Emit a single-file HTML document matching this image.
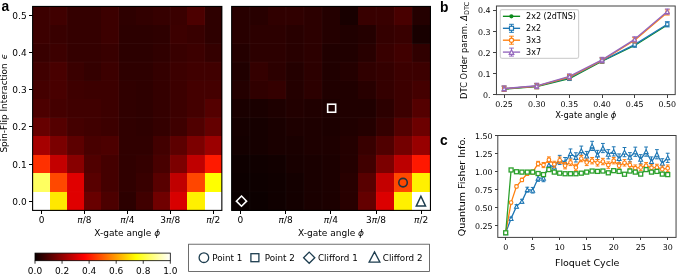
<!DOCTYPE html>
<html><head><meta charset="utf-8"><title>Figure</title>
<style>html,body{margin:0;padding:0;background:#fff}svg{display:block}</style></head>
<body>
<svg width="685" height="278" viewBox="0 0 685 278">
<rect width="685" height="278" fill="#fff"/>
<g shape-rendering="crispEdges">
<rect x="32.60" y="6.45" width="17.50" height="18.84" fill="#3c0000"/>
<rect x="49.80" y="6.45" width="17.50" height="18.84" fill="#400000"/>
<rect x="67.01" y="6.45" width="17.50" height="18.84" fill="#340000"/>
<rect x="84.21" y="6.45" width="17.50" height="18.84" fill="#340000"/>
<rect x="101.42" y="6.45" width="17.50" height="18.84" fill="#3c0000"/>
<rect x="118.62" y="6.45" width="17.50" height="18.84" fill="#2e0000"/>
<rect x="135.83" y="6.45" width="17.50" height="18.84" fill="#320000"/>
<rect x="153.03" y="6.45" width="17.50" height="18.84" fill="#360000"/>
<rect x="170.24" y="6.45" width="17.50" height="18.84" fill="#3a0000"/>
<rect x="187.44" y="6.45" width="17.50" height="18.84" fill="#4c0000"/>
<rect x="204.65" y="6.45" width="17.50" height="18.84" fill="#2e0000"/>
<rect x="32.60" y="24.99" width="17.50" height="18.84" fill="#3c0000"/>
<rect x="49.80" y="24.99" width="17.50" height="18.84" fill="#380000"/>
<rect x="67.01" y="24.99" width="17.50" height="18.84" fill="#340000"/>
<rect x="84.21" y="24.99" width="17.50" height="18.84" fill="#340000"/>
<rect x="101.42" y="24.99" width="17.50" height="18.84" fill="#3c0000"/>
<rect x="118.62" y="24.99" width="17.50" height="18.84" fill="#2c0000"/>
<rect x="135.83" y="24.99" width="17.50" height="18.84" fill="#2c0000"/>
<rect x="153.03" y="24.99" width="17.50" height="18.84" fill="#2e0000"/>
<rect x="170.24" y="24.99" width="17.50" height="18.84" fill="#3c0000"/>
<rect x="187.44" y="24.99" width="17.50" height="18.84" fill="#380000"/>
<rect x="204.65" y="24.99" width="17.50" height="18.84" fill="#2e0000"/>
<rect x="32.60" y="43.53" width="17.50" height="18.84" fill="#380000"/>
<rect x="49.80" y="43.53" width="17.50" height="18.84" fill="#3c0000"/>
<rect x="67.01" y="43.53" width="17.50" height="18.84" fill="#340000"/>
<rect x="84.21" y="43.53" width="17.50" height="18.84" fill="#340000"/>
<rect x="101.42" y="43.53" width="17.50" height="18.84" fill="#380000"/>
<rect x="118.62" y="43.53" width="17.50" height="18.84" fill="#2c0000"/>
<rect x="135.83" y="43.53" width="17.50" height="18.84" fill="#2c0000"/>
<rect x="153.03" y="43.53" width="17.50" height="18.84" fill="#300000"/>
<rect x="170.24" y="43.53" width="17.50" height="18.84" fill="#380000"/>
<rect x="187.44" y="43.53" width="17.50" height="18.84" fill="#3c0000"/>
<rect x="204.65" y="43.53" width="17.50" height="18.84" fill="#340000"/>
<rect x="32.60" y="62.07" width="17.50" height="18.84" fill="#400000"/>
<rect x="49.80" y="62.07" width="17.50" height="18.84" fill="#480000"/>
<rect x="67.01" y="62.07" width="17.50" height="18.84" fill="#3a0000"/>
<rect x="84.21" y="62.07" width="17.50" height="18.84" fill="#340000"/>
<rect x="101.42" y="62.07" width="17.50" height="18.84" fill="#3c0000"/>
<rect x="118.62" y="62.07" width="17.50" height="18.84" fill="#2e0000"/>
<rect x="135.83" y="62.07" width="17.50" height="18.84" fill="#2e0000"/>
<rect x="153.03" y="62.07" width="17.50" height="18.84" fill="#340000"/>
<rect x="170.24" y="62.07" width="17.50" height="18.84" fill="#3c0000"/>
<rect x="187.44" y="62.07" width="17.50" height="18.84" fill="#400000"/>
<rect x="204.65" y="62.07" width="17.50" height="18.84" fill="#400000"/>
<rect x="32.60" y="80.61" width="17.50" height="18.84" fill="#440000"/>
<rect x="49.80" y="80.61" width="17.50" height="18.84" fill="#480000"/>
<rect x="67.01" y="80.61" width="17.50" height="18.84" fill="#3e0000"/>
<rect x="84.21" y="80.61" width="17.50" height="18.84" fill="#3c0000"/>
<rect x="101.42" y="80.61" width="17.50" height="18.84" fill="#3c0000"/>
<rect x="118.62" y="80.61" width="17.50" height="18.84" fill="#300000"/>
<rect x="135.83" y="80.61" width="17.50" height="18.84" fill="#2e0000"/>
<rect x="153.03" y="80.61" width="17.50" height="18.84" fill="#340000"/>
<rect x="170.24" y="80.61" width="17.50" height="18.84" fill="#3c0000"/>
<rect x="187.44" y="80.61" width="17.50" height="18.84" fill="#440000"/>
<rect x="204.65" y="80.61" width="17.50" height="18.84" fill="#440000"/>
<rect x="32.60" y="99.15" width="17.50" height="18.84" fill="#4c0000"/>
<rect x="49.80" y="99.15" width="17.50" height="18.84" fill="#440000"/>
<rect x="67.01" y="99.15" width="17.50" height="18.84" fill="#400000"/>
<rect x="84.21" y="99.15" width="17.50" height="18.84" fill="#400000"/>
<rect x="101.42" y="99.15" width="17.50" height="18.84" fill="#3c0000"/>
<rect x="118.62" y="99.15" width="17.50" height="18.84" fill="#300000"/>
<rect x="135.83" y="99.15" width="17.50" height="18.84" fill="#2e0000"/>
<rect x="153.03" y="99.15" width="17.50" height="18.84" fill="#340000"/>
<rect x="170.24" y="99.15" width="17.50" height="18.84" fill="#3c0000"/>
<rect x="187.44" y="99.15" width="17.50" height="18.84" fill="#440000"/>
<rect x="204.65" y="99.15" width="17.50" height="18.84" fill="#540000"/>
<rect x="32.60" y="117.70" width="17.50" height="18.84" fill="#660000"/>
<rect x="49.80" y="117.70" width="17.50" height="18.84" fill="#540000"/>
<rect x="67.01" y="117.70" width="17.50" height="18.84" fill="#440000"/>
<rect x="84.21" y="117.70" width="17.50" height="18.84" fill="#400000"/>
<rect x="101.42" y="117.70" width="17.50" height="18.84" fill="#3c0000"/>
<rect x="118.62" y="117.70" width="17.50" height="18.84" fill="#300000"/>
<rect x="135.83" y="117.70" width="17.50" height="18.84" fill="#2e0000"/>
<rect x="153.03" y="117.70" width="17.50" height="18.84" fill="#340000"/>
<rect x="170.24" y="117.70" width="17.50" height="18.84" fill="#3e0000"/>
<rect x="187.44" y="117.70" width="17.50" height="18.84" fill="#500000"/>
<rect x="204.65" y="117.70" width="17.50" height="18.84" fill="#640000"/>
<rect x="32.60" y="136.24" width="17.50" height="18.84" fill="#a60000"/>
<rect x="49.80" y="136.24" width="17.50" height="18.84" fill="#7a0000"/>
<rect x="67.01" y="136.24" width="17.50" height="18.84" fill="#5c0000"/>
<rect x="84.21" y="136.24" width="17.50" height="18.84" fill="#480000"/>
<rect x="101.42" y="136.24" width="17.50" height="18.84" fill="#4c0000"/>
<rect x="118.62" y="136.24" width="17.50" height="18.84" fill="#300000"/>
<rect x="135.83" y="136.24" width="17.50" height="18.84" fill="#300000"/>
<rect x="153.03" y="136.24" width="17.50" height="18.84" fill="#420000"/>
<rect x="170.24" y="136.24" width="17.50" height="18.84" fill="#5c0000"/>
<rect x="187.44" y="136.24" width="17.50" height="18.84" fill="#7c0000"/>
<rect x="204.65" y="136.24" width="17.50" height="18.84" fill="#9c0000"/>
<rect x="32.60" y="154.78" width="17.50" height="18.84" fill="#ff3000"/>
<rect x="49.80" y="154.78" width="17.50" height="18.84" fill="#c40000"/>
<rect x="67.01" y="154.78" width="17.50" height="18.84" fill="#880000"/>
<rect x="84.21" y="154.78" width="17.50" height="18.84" fill="#500000"/>
<rect x="101.42" y="154.78" width="17.50" height="18.84" fill="#440000"/>
<rect x="118.62" y="154.78" width="17.50" height="18.84" fill="#300000"/>
<rect x="135.83" y="154.78" width="17.50" height="18.84" fill="#340000"/>
<rect x="153.03" y="154.78" width="17.50" height="18.84" fill="#480000"/>
<rect x="170.24" y="154.78" width="17.50" height="18.84" fill="#7c0000"/>
<rect x="187.44" y="154.78" width="17.50" height="18.84" fill="#c00000"/>
<rect x="204.65" y="154.78" width="17.50" height="18.84" fill="#ff1a00"/>
<rect x="32.60" y="173.32" width="17.50" height="18.84" fill="#ffff60"/>
<rect x="49.80" y="173.32" width="17.50" height="18.84" fill="#ff4800"/>
<rect x="67.01" y="173.32" width="17.50" height="18.84" fill="#e00000"/>
<rect x="84.21" y="173.32" width="17.50" height="18.84" fill="#580000"/>
<rect x="101.42" y="173.32" width="17.50" height="18.84" fill="#440000"/>
<rect x="118.62" y="173.32" width="17.50" height="18.84" fill="#300000"/>
<rect x="135.83" y="173.32" width="17.50" height="18.84" fill="#380000"/>
<rect x="153.03" y="173.32" width="17.50" height="18.84" fill="#580000"/>
<rect x="170.24" y="173.32" width="17.50" height="18.84" fill="#c00000"/>
<rect x="187.44" y="173.32" width="17.50" height="18.84" fill="#ff4600"/>
<rect x="204.65" y="173.32" width="17.50" height="18.84" fill="#ffff00"/>
<rect x="32.60" y="191.86" width="17.50" height="18.84" fill="#ffffff"/>
<rect x="49.80" y="191.86" width="17.50" height="18.84" fill="#ffe800"/>
<rect x="67.01" y="191.86" width="17.50" height="18.84" fill="#e00000"/>
<rect x="84.21" y="191.86" width="17.50" height="18.84" fill="#680000"/>
<rect x="101.42" y="191.86" width="17.50" height="18.84" fill="#4c0000"/>
<rect x="118.62" y="191.86" width="17.50" height="18.84" fill="#2c0000"/>
<rect x="135.83" y="191.86" width="17.50" height="18.84" fill="#400000"/>
<rect x="153.03" y="191.86" width="17.50" height="18.84" fill="#700000"/>
<rect x="170.24" y="191.86" width="17.50" height="18.84" fill="#d80000"/>
<rect x="187.44" y="191.86" width="17.50" height="18.84" fill="#fff000"/>
<rect x="204.65" y="191.86" width="17.50" height="18.84" fill="#ffffff"/>
</g>
<line x1="49.80" y1="6.45" x2="49.80" y2="210.40" stroke="#fff" stroke-opacity="0.045" stroke-width="0.9"/>
<line x1="67.01" y1="6.45" x2="67.01" y2="210.40" stroke="#fff" stroke-opacity="0.045" stroke-width="0.9"/>
<line x1="118.62" y1="6.45" x2="118.62" y2="210.40" stroke="#fff" stroke-opacity="0.045" stroke-width="0.9"/>
<line x1="170.24" y1="6.45" x2="170.24" y2="210.40" stroke="#fff" stroke-opacity="0.045" stroke-width="0.9"/>
<line x1="204.65" y1="6.45" x2="204.65" y2="210.40" stroke="#fff" stroke-opacity="0.045" stroke-width="0.9"/>
<line x1="32.60" y1="43.53" x2="221.85" y2="43.53" stroke="#fff" stroke-opacity="0.045" stroke-width="0.9"/>
<line x1="32.60" y1="62.07" x2="221.85" y2="62.07" stroke="#fff" stroke-opacity="0.045" stroke-width="0.9"/>
<line x1="32.60" y1="80.61" x2="221.85" y2="80.61" stroke="#fff" stroke-opacity="0.02" stroke-width="0.9"/>
<line x1="32.60" y1="117.70" x2="221.85" y2="117.70" stroke="#fff" stroke-opacity="0.045" stroke-width="0.9"/>
<line x1="32.60" y1="154.78" x2="221.85" y2="154.78" stroke="#fff" stroke-opacity="0.02" stroke-width="0.9"/>
<line x1="32.60" y1="191.86" x2="221.85" y2="191.86" stroke="#fff" stroke-opacity="0.02" stroke-width="0.9"/>
<rect x="32.60" y="6.45" width="189.25" height="203.95" fill="none" stroke="#000" stroke-width="1.1"/>
<line x1="41.50" y1="210.40" x2="41.50" y2="213.70" stroke="#000" stroke-width="1" shape-rendering="crispEdges"/>
<text x="41.50" y="223.40" font-size="9.0" text-anchor="middle" font-family='"DejaVu Sans","Liberation Sans",sans-serif' >0</text>
<line x1="84.43" y1="210.40" x2="84.43" y2="213.70" stroke="#000" stroke-width="1" shape-rendering="crispEdges"/>
<text x="84.43" y="223.40" font-size="9.0" text-anchor="middle" font-family='"DejaVu Sans","Liberation Sans",sans-serif' ><tspan font-style="italic">π</tspan>/8</text>
<line x1="127.36" y1="210.40" x2="127.36" y2="213.70" stroke="#000" stroke-width="1" shape-rendering="crispEdges"/>
<text x="127.36" y="223.40" font-size="9.0" text-anchor="middle" font-family='"DejaVu Sans","Liberation Sans",sans-serif' ><tspan font-style="italic">π</tspan>/4</text>
<line x1="170.29" y1="210.40" x2="170.29" y2="213.70" stroke="#000" stroke-width="1" shape-rendering="crispEdges"/>
<text x="170.29" y="223.40" font-size="9.0" text-anchor="middle" font-family='"DejaVu Sans","Liberation Sans",sans-serif' >3<tspan font-style="italic">π</tspan>/8</text>
<line x1="213.22" y1="210.40" x2="213.22" y2="213.70" stroke="#000" stroke-width="1" shape-rendering="crispEdges"/>
<text x="213.22" y="223.40" font-size="9.0" text-anchor="middle" font-family='"DejaVu Sans","Liberation Sans",sans-serif' ><tspan font-style="italic">π</tspan>/2</text>
<text x="127.22" y="236.00" font-size="9.0" text-anchor="middle" font-family='"DejaVu Sans","Liberation Sans",sans-serif' >X-gate angle <tspan font-style="italic">ϕ</tspan></text>
<line x1="29.30" y1="201.13" x2="32.60" y2="201.13" stroke="#000" stroke-width="1" shape-rendering="crispEdges"/>
<text x="26.70" y="204.63" font-size="9.0" text-anchor="end" font-family='"DejaVu Sans","Liberation Sans",sans-serif' >0.0</text>
<line x1="29.30" y1="164.05" x2="32.60" y2="164.05" stroke="#000" stroke-width="1" shape-rendering="crispEdges"/>
<text x="26.70" y="167.55" font-size="9.0" text-anchor="end" font-family='"DejaVu Sans","Liberation Sans",sans-serif' >0.1</text>
<line x1="29.30" y1="126.97" x2="32.60" y2="126.97" stroke="#000" stroke-width="1" shape-rendering="crispEdges"/>
<text x="26.70" y="130.47" font-size="9.0" text-anchor="end" font-family='"DejaVu Sans","Liberation Sans",sans-serif' >0.2</text>
<line x1="29.30" y1="89.88" x2="32.60" y2="89.88" stroke="#000" stroke-width="1" shape-rendering="crispEdges"/>
<text x="26.70" y="93.38" font-size="9.0" text-anchor="end" font-family='"DejaVu Sans","Liberation Sans",sans-serif' >0.3</text>
<line x1="29.30" y1="52.80" x2="32.60" y2="52.80" stroke="#000" stroke-width="1" shape-rendering="crispEdges"/>
<text x="26.70" y="56.30" font-size="9.0" text-anchor="end" font-family='"DejaVu Sans","Liberation Sans",sans-serif' >0.4</text>
<line x1="29.30" y1="15.72" x2="32.60" y2="15.72" stroke="#000" stroke-width="1" shape-rendering="crispEdges"/>
<text x="26.70" y="19.22" font-size="9.0" text-anchor="end" font-family='"DejaVu Sans","Liberation Sans",sans-serif' >0.5</text>
<text x="1.40" y="11.30" font-size="13.8" text-anchor="start" font-family='"Liberation Sans","DejaVu Sans",sans-serif' font-weight="bold">a</text>
<text transform="translate(7.4,103.2) rotate(-90)" font-size="8.9" text-anchor="middle" font-family='"DejaVu Sans","Liberation Sans",sans-serif'>Spin-Flip Interaction <tspan font-style="italic" dx="1.3">ϵ</tspan></text>
<g shape-rendering="crispEdges">
<rect x="231.65" y="6.45" width="18.37" height="18.84" fill="#280000"/>
<rect x="249.72" y="6.45" width="18.37" height="18.84" fill="#280000"/>
<rect x="267.80" y="6.45" width="18.37" height="18.84" fill="#300000"/>
<rect x="285.87" y="6.45" width="18.37" height="18.84" fill="#300000"/>
<rect x="303.94" y="6.45" width="18.37" height="18.84" fill="#2c0000"/>
<rect x="322.01" y="6.45" width="18.37" height="18.84" fill="#240000"/>
<rect x="340.09" y="6.45" width="18.37" height="18.84" fill="#180000"/>
<rect x="358.16" y="6.45" width="18.37" height="18.84" fill="#380000"/>
<rect x="376.23" y="6.45" width="18.37" height="18.84" fill="#380000"/>
<rect x="394.30" y="6.45" width="18.37" height="18.84" fill="#480000"/>
<rect x="412.38" y="6.45" width="18.37" height="18.84" fill="#240000"/>
<rect x="231.65" y="24.99" width="18.37" height="18.84" fill="#280000"/>
<rect x="249.72" y="24.99" width="18.37" height="18.84" fill="#2c0000"/>
<rect x="267.80" y="24.99" width="18.37" height="18.84" fill="#2c0000"/>
<rect x="285.87" y="24.99" width="18.37" height="18.84" fill="#280000"/>
<rect x="303.94" y="24.99" width="18.37" height="18.84" fill="#2c0000"/>
<rect x="322.01" y="24.99" width="18.37" height="18.84" fill="#240000"/>
<rect x="340.09" y="24.99" width="18.37" height="18.84" fill="#200000"/>
<rect x="358.16" y="24.99" width="18.37" height="18.84" fill="#240000"/>
<rect x="376.23" y="24.99" width="18.37" height="18.84" fill="#340000"/>
<rect x="394.30" y="24.99" width="18.37" height="18.84" fill="#380000"/>
<rect x="412.38" y="24.99" width="18.37" height="18.84" fill="#180000"/>
<rect x="231.65" y="43.53" width="18.37" height="18.84" fill="#240000"/>
<rect x="249.72" y="43.53" width="18.37" height="18.84" fill="#2c0000"/>
<rect x="267.80" y="43.53" width="18.37" height="18.84" fill="#2c0000"/>
<rect x="285.87" y="43.53" width="18.37" height="18.84" fill="#280000"/>
<rect x="303.94" y="43.53" width="18.37" height="18.84" fill="#2c0000"/>
<rect x="322.01" y="43.53" width="18.37" height="18.84" fill="#200000"/>
<rect x="340.09" y="43.53" width="18.37" height="18.84" fill="#200000"/>
<rect x="358.16" y="43.53" width="18.37" height="18.84" fill="#280000"/>
<rect x="376.23" y="43.53" width="18.37" height="18.84" fill="#380000"/>
<rect x="394.30" y="43.53" width="18.37" height="18.84" fill="#400000"/>
<rect x="412.38" y="43.53" width="18.37" height="18.84" fill="#300000"/>
<rect x="231.65" y="62.07" width="18.37" height="18.84" fill="#200000"/>
<rect x="249.72" y="62.07" width="18.37" height="18.84" fill="#340000"/>
<rect x="267.80" y="62.07" width="18.37" height="18.84" fill="#2c0000"/>
<rect x="285.87" y="62.07" width="18.37" height="18.84" fill="#240000"/>
<rect x="303.94" y="62.07" width="18.37" height="18.84" fill="#2c0000"/>
<rect x="322.01" y="62.07" width="18.37" height="18.84" fill="#200000"/>
<rect x="340.09" y="62.07" width="18.37" height="18.84" fill="#240000"/>
<rect x="358.16" y="62.07" width="18.37" height="18.84" fill="#300000"/>
<rect x="376.23" y="62.07" width="18.37" height="18.84" fill="#340000"/>
<rect x="394.30" y="62.07" width="18.37" height="18.84" fill="#3c0000"/>
<rect x="412.38" y="62.07" width="18.37" height="18.84" fill="#3c0000"/>
<rect x="231.65" y="80.61" width="18.37" height="18.84" fill="#240000"/>
<rect x="249.72" y="80.61" width="18.37" height="18.84" fill="#300000"/>
<rect x="267.80" y="80.61" width="18.37" height="18.84" fill="#340000"/>
<rect x="285.87" y="80.61" width="18.37" height="18.84" fill="#240000"/>
<rect x="303.94" y="80.61" width="18.37" height="18.84" fill="#2c0000"/>
<rect x="322.01" y="80.61" width="18.37" height="18.84" fill="#200000"/>
<rect x="340.09" y="80.61" width="18.37" height="18.84" fill="#200000"/>
<rect x="358.16" y="80.61" width="18.37" height="18.84" fill="#280000"/>
<rect x="376.23" y="80.61" width="18.37" height="18.84" fill="#340000"/>
<rect x="394.30" y="80.61" width="18.37" height="18.84" fill="#3c0000"/>
<rect x="412.38" y="80.61" width="18.37" height="18.84" fill="#440000"/>
<rect x="231.65" y="99.15" width="18.37" height="18.84" fill="#1a0000"/>
<rect x="249.72" y="99.15" width="18.37" height="18.84" fill="#1a0000"/>
<rect x="267.80" y="99.15" width="18.37" height="18.84" fill="#1e0000"/>
<rect x="285.87" y="99.15" width="18.37" height="18.84" fill="#220000"/>
<rect x="303.94" y="99.15" width="18.37" height="18.84" fill="#200000"/>
<rect x="322.01" y="99.15" width="18.37" height="18.84" fill="#1c0000"/>
<rect x="340.09" y="99.15" width="18.37" height="18.84" fill="#200000"/>
<rect x="358.16" y="99.15" width="18.37" height="18.84" fill="#200000"/>
<rect x="376.23" y="99.15" width="18.37" height="18.84" fill="#2c0000"/>
<rect x="394.30" y="99.15" width="18.37" height="18.84" fill="#3c0000"/>
<rect x="412.38" y="99.15" width="18.37" height="18.84" fill="#540000"/>
<rect x="231.65" y="117.70" width="18.37" height="18.84" fill="#160000"/>
<rect x="249.72" y="117.70" width="18.37" height="18.84" fill="#160000"/>
<rect x="267.80" y="117.70" width="18.37" height="18.84" fill="#1a0000"/>
<rect x="285.87" y="117.70" width="18.37" height="18.84" fill="#1e0000"/>
<rect x="303.94" y="117.70" width="18.37" height="18.84" fill="#1e0000"/>
<rect x="322.01" y="117.70" width="18.37" height="18.84" fill="#1c0000"/>
<rect x="340.09" y="117.70" width="18.37" height="18.84" fill="#200000"/>
<rect x="358.16" y="117.70" width="18.37" height="18.84" fill="#240000"/>
<rect x="376.23" y="117.70" width="18.37" height="18.84" fill="#340000"/>
<rect x="394.30" y="117.70" width="18.37" height="18.84" fill="#520000"/>
<rect x="412.38" y="117.70" width="18.37" height="18.84" fill="#6c0000"/>
<rect x="231.65" y="136.24" width="18.37" height="18.84" fill="#140000"/>
<rect x="249.72" y="136.24" width="18.37" height="18.84" fill="#160000"/>
<rect x="267.80" y="136.24" width="18.37" height="18.84" fill="#1a0000"/>
<rect x="285.87" y="136.24" width="18.37" height="18.84" fill="#1a0000"/>
<rect x="303.94" y="136.24" width="18.37" height="18.84" fill="#1e0000"/>
<rect x="322.01" y="136.24" width="18.37" height="18.84" fill="#1e0000"/>
<rect x="340.09" y="136.24" width="18.37" height="18.84" fill="#240000"/>
<rect x="358.16" y="136.24" width="18.37" height="18.84" fill="#380000"/>
<rect x="376.23" y="136.24" width="18.37" height="18.84" fill="#500000"/>
<rect x="394.30" y="136.24" width="18.37" height="18.84" fill="#740000"/>
<rect x="412.38" y="136.24" width="18.37" height="18.84" fill="#980000"/>
<rect x="231.65" y="154.78" width="18.37" height="18.84" fill="#0e0000"/>
<rect x="249.72" y="154.78" width="18.37" height="18.84" fill="#100000"/>
<rect x="267.80" y="154.78" width="18.37" height="18.84" fill="#120000"/>
<rect x="285.87" y="154.78" width="18.37" height="18.84" fill="#180000"/>
<rect x="303.94" y="154.78" width="18.37" height="18.84" fill="#1a0000"/>
<rect x="322.01" y="154.78" width="18.37" height="18.84" fill="#1c0000"/>
<rect x="340.09" y="154.78" width="18.37" height="18.84" fill="#240000"/>
<rect x="358.16" y="154.78" width="18.37" height="18.84" fill="#400000"/>
<rect x="376.23" y="154.78" width="18.37" height="18.84" fill="#7c0000"/>
<rect x="394.30" y="154.78" width="18.37" height="18.84" fill="#bc0000"/>
<rect x="412.38" y="154.78" width="18.37" height="18.84" fill="#ff1800"/>
<rect x="231.65" y="173.32" width="18.37" height="18.84" fill="#0c0000"/>
<rect x="249.72" y="173.32" width="18.37" height="18.84" fill="#0e0000"/>
<rect x="267.80" y="173.32" width="18.37" height="18.84" fill="#100000"/>
<rect x="285.87" y="173.32" width="18.37" height="18.84" fill="#140000"/>
<rect x="303.94" y="173.32" width="18.37" height="18.84" fill="#1a0000"/>
<rect x="322.01" y="173.32" width="18.37" height="18.84" fill="#1c0000"/>
<rect x="340.09" y="173.32" width="18.37" height="18.84" fill="#280000"/>
<rect x="358.16" y="173.32" width="18.37" height="18.84" fill="#580000"/>
<rect x="376.23" y="173.32" width="18.37" height="18.84" fill="#c40000"/>
<rect x="394.30" y="173.32" width="18.37" height="18.84" fill="#ff4800"/>
<rect x="412.38" y="173.32" width="18.37" height="18.84" fill="#fff000"/>
<rect x="231.65" y="191.86" width="18.37" height="18.84" fill="#0a0000"/>
<rect x="249.72" y="191.86" width="18.37" height="18.84" fill="#0c0000"/>
<rect x="267.80" y="191.86" width="18.37" height="18.84" fill="#100000"/>
<rect x="285.87" y="191.86" width="18.37" height="18.84" fill="#140000"/>
<rect x="303.94" y="191.86" width="18.37" height="18.84" fill="#1a0000"/>
<rect x="322.01" y="191.86" width="18.37" height="18.84" fill="#1c0000"/>
<rect x="340.09" y="191.86" width="18.37" height="18.84" fill="#280000"/>
<rect x="358.16" y="191.86" width="18.37" height="18.84" fill="#640000"/>
<rect x="376.23" y="191.86" width="18.37" height="18.84" fill="#dc0000"/>
<rect x="394.30" y="191.86" width="18.37" height="18.84" fill="#fff000"/>
<rect x="412.38" y="191.86" width="18.37" height="18.84" fill="#ffffff"/>
</g>
<line x1="249.72" y1="6.45" x2="249.72" y2="210.40" stroke="#fff" stroke-opacity="0.045" stroke-width="0.9"/>
<line x1="285.87" y1="6.45" x2="285.87" y2="210.40" stroke="#fff" stroke-opacity="0.045" stroke-width="0.9"/>
<line x1="303.94" y1="6.45" x2="303.94" y2="210.40" stroke="#fff" stroke-opacity="0.045" stroke-width="0.9"/>
<line x1="322.01" y1="6.45" x2="322.01" y2="210.40" stroke="#fff" stroke-opacity="0.045" stroke-width="0.9"/>
<line x1="376.23" y1="6.45" x2="376.23" y2="210.40" stroke="#fff" stroke-opacity="0.045" stroke-width="0.9"/>
<line x1="394.30" y1="6.45" x2="394.30" y2="210.40" stroke="#fff" stroke-opacity="0.045" stroke-width="0.9"/>
<line x1="412.38" y1="6.45" x2="412.38" y2="210.40" stroke="#fff" stroke-opacity="0.045" stroke-width="0.9"/>
<line x1="231.65" y1="43.53" x2="430.45" y2="43.53" stroke="#fff" stroke-opacity="0.045" stroke-width="0.9"/>
<line x1="231.65" y1="62.07" x2="430.45" y2="62.07" stroke="#fff" stroke-opacity="0.045" stroke-width="0.9"/>
<line x1="231.65" y1="80.61" x2="430.45" y2="80.61" stroke="#fff" stroke-opacity="0.02" stroke-width="0.9"/>
<line x1="231.65" y1="117.70" x2="430.45" y2="117.70" stroke="#fff" stroke-opacity="0.045" stroke-width="0.9"/>
<line x1="231.65" y1="154.78" x2="430.45" y2="154.78" stroke="#fff" stroke-opacity="0.02" stroke-width="0.9"/>
<line x1="231.65" y1="191.86" x2="430.45" y2="191.86" stroke="#fff" stroke-opacity="0.02" stroke-width="0.9"/>
<rect x="231.65" y="6.45" width="198.80" height="203.95" fill="none" stroke="#000" stroke-width="1.1"/>
<line x1="240.40" y1="210.40" x2="240.40" y2="213.70" stroke="#000" stroke-width="1" shape-rendering="crispEdges"/>
<text x="240.40" y="223.40" font-size="9.0" text-anchor="middle" font-family='"DejaVu Sans","Liberation Sans",sans-serif' >0</text>
<line x1="285.60" y1="210.40" x2="285.60" y2="213.70" stroke="#000" stroke-width="1" shape-rendering="crispEdges"/>
<text x="285.60" y="223.40" font-size="9.0" text-anchor="middle" font-family='"DejaVu Sans","Liberation Sans",sans-serif' ><tspan font-style="italic">π</tspan>/8</text>
<line x1="330.80" y1="210.40" x2="330.80" y2="213.70" stroke="#000" stroke-width="1" shape-rendering="crispEdges"/>
<text x="330.80" y="223.40" font-size="9.0" text-anchor="middle" font-family='"DejaVu Sans","Liberation Sans",sans-serif' ><tspan font-style="italic">π</tspan>/4</text>
<line x1="376.00" y1="210.40" x2="376.00" y2="213.70" stroke="#000" stroke-width="1" shape-rendering="crispEdges"/>
<text x="376.00" y="223.40" font-size="9.0" text-anchor="middle" font-family='"DejaVu Sans","Liberation Sans",sans-serif' >3<tspan font-style="italic">π</tspan>/8</text>
<line x1="421.20" y1="210.40" x2="421.20" y2="213.70" stroke="#000" stroke-width="1" shape-rendering="crispEdges"/>
<text x="421.20" y="223.40" font-size="9.0" text-anchor="middle" font-family='"DejaVu Sans","Liberation Sans",sans-serif' ><tspan font-style="italic">π</tspan>/2</text>
<text x="331.05" y="236.00" font-size="9.0" text-anchor="middle" font-family='"DejaVu Sans","Liberation Sans",sans-serif' >X-gate angle <tspan font-style="italic">ϕ</tspan></text>
<rect x="327.65" y="104.22" width="8.0" height="8.0" fill="none" stroke="#fff" stroke-width="1.6"/>
<path d="M241.49 196.03 L246.59 201.13 L241.49 206.23 L236.39 201.13 Z" fill="none" stroke="#fff" stroke-width="1.6"/>
<circle cx="403.04" cy="182.59" r="4.25" fill="none" stroke="#22323c" stroke-width="1.6"/>
<path d="M420.91 196.23 L425.51 205.93 L416.31 205.93 Z" fill="none" stroke="#1d3d4f" stroke-width="1.5" stroke-linejoin="miter"/>
<defs><linearGradient id="hot" x1="0" x2="1" y1="0" y2="0">
<stop offset="0" stop-color="#0b0000"/><stop offset="0.365" stop-color="#ff0000"/><stop offset="0.746" stop-color="#ffff00"/><stop offset="1" stop-color="#ffffff"/></linearGradient></defs>
<rect x="35.0" y="253.1" width="135.30" height="7.60" fill="url(#hot)" stroke="#000" stroke-width="0.8"/>
<line x1="35.00" y1="260.70" x2="35.00" y2="263.70" stroke="#000" stroke-width="0.8"/>
<text x="35.00" y="273.70" font-size="9.0" text-anchor="middle" font-family='"DejaVu Sans","Liberation Sans",sans-serif' >0.0</text>
<line x1="62.06" y1="260.70" x2="62.06" y2="263.70" stroke="#000" stroke-width="0.8"/>
<text x="62.06" y="273.70" font-size="9.0" text-anchor="middle" font-family='"DejaVu Sans","Liberation Sans",sans-serif' >0.2</text>
<line x1="89.12" y1="260.70" x2="89.12" y2="263.70" stroke="#000" stroke-width="0.8"/>
<text x="89.12" y="273.70" font-size="9.0" text-anchor="middle" font-family='"DejaVu Sans","Liberation Sans",sans-serif' >0.4</text>
<line x1="116.18" y1="260.70" x2="116.18" y2="263.70" stroke="#000" stroke-width="0.8"/>
<text x="116.18" y="273.70" font-size="9.0" text-anchor="middle" font-family='"DejaVu Sans","Liberation Sans",sans-serif' >0.6</text>
<line x1="143.24" y1="260.70" x2="143.24" y2="263.70" stroke="#000" stroke-width="0.8"/>
<text x="143.24" y="273.70" font-size="9.0" text-anchor="middle" font-family='"DejaVu Sans","Liberation Sans",sans-serif' >0.8</text>
<line x1="170.30" y1="260.70" x2="170.30" y2="263.70" stroke="#000" stroke-width="0.8"/>
<text x="170.30" y="273.70" font-size="9.0" text-anchor="middle" font-family='"DejaVu Sans","Liberation Sans",sans-serif' >1.0</text>
<rect x="188.6" y="244.2" width="240.80" height="27.20" fill="#fff" stroke="#4a4a4a" stroke-width="0.8"/>
<circle cx="203.9" cy="257.7" r="4.8" fill="none" stroke="#1d3d4f" stroke-width="1.3"/>
<text x="212.30" y="260.80" font-size="8.75" text-anchor="start" font-family='"DejaVu Sans","Liberation Sans",sans-serif' >Point 1</text>
<rect x="250.90" y="253.70" width="8" height="8" fill="none" stroke="#1d3d4f" stroke-width="1.3"/>
<text x="264.80" y="260.80" font-size="8.75" text-anchor="start" font-family='"DejaVu Sans","Liberation Sans",sans-serif' >Point 2</text>
<path d="M309.2 252.10 L314.80 257.70 L309.2 263.30 L303.60 257.70 Z" fill="none" stroke="#1d3d4f" stroke-width="1.3"/>
<text x="318.00" y="260.80" font-size="8.75" text-anchor="start" font-family='"DejaVu Sans","Liberation Sans",sans-serif' >Clifford 1</text>
<path d="M374.5 251.90 L379.90 262.10 L369.10 262.10 Z" fill="none" stroke="#1d3d4f" stroke-width="1.3"/>
<text x="382.80" y="260.80" font-size="8.75" text-anchor="start" font-family='"DejaVu Sans","Liberation Sans",sans-serif' >Clifford 2</text>
<rect x="496.45" y="6.0" width="178.75" height="88.60" fill="#fff" stroke="#404040" stroke-width="1"/>
<line x1="504.10" y1="94.6" x2="504.10" y2="97.6" stroke="#404040" stroke-width="1" shape-rendering="crispEdges"/>
<text x="504.10" y="107.10" font-size="7.9" text-anchor="middle" font-family='"DejaVu Sans","Liberation Sans",sans-serif' >0.25</text>
<line x1="536.74" y1="94.6" x2="536.74" y2="97.6" stroke="#404040" stroke-width="1" shape-rendering="crispEdges"/>
<text x="536.74" y="107.10" font-size="7.9" text-anchor="middle" font-family='"DejaVu Sans","Liberation Sans",sans-serif' >0.30</text>
<line x1="569.38" y1="94.6" x2="569.38" y2="97.6" stroke="#404040" stroke-width="1" shape-rendering="crispEdges"/>
<text x="569.38" y="107.10" font-size="7.9" text-anchor="middle" font-family='"DejaVu Sans","Liberation Sans",sans-serif' >0.35</text>
<line x1="602.02" y1="94.6" x2="602.02" y2="97.6" stroke="#404040" stroke-width="1" shape-rendering="crispEdges"/>
<text x="602.02" y="107.10" font-size="7.9" text-anchor="middle" font-family='"DejaVu Sans","Liberation Sans",sans-serif' >0.40</text>
<line x1="634.66" y1="94.6" x2="634.66" y2="97.6" stroke="#404040" stroke-width="1" shape-rendering="crispEdges"/>
<text x="634.66" y="107.10" font-size="7.9" text-anchor="middle" font-family='"DejaVu Sans","Liberation Sans",sans-serif' >0.45</text>
<line x1="667.30" y1="94.6" x2="667.30" y2="97.6" stroke="#404040" stroke-width="1" shape-rendering="crispEdges"/>
<text x="667.30" y="107.10" font-size="7.9" text-anchor="middle" font-family='"DejaVu Sans","Liberation Sans",sans-serif' >0.50</text>
<line x1="493.45" y1="94.90" x2="496.45" y2="94.90" stroke="#404040" stroke-width="1" shape-rendering="crispEdges"/>
<text x="490.50" y="98.10" font-size="7.9" text-anchor="end" font-family='"DejaVu Sans","Liberation Sans",sans-serif' >0.</text>
<line x1="493.45" y1="73.70" x2="496.45" y2="73.70" stroke="#404040" stroke-width="1" shape-rendering="crispEdges"/>
<text x="490.50" y="76.90" font-size="7.9" text-anchor="end" font-family='"DejaVu Sans","Liberation Sans",sans-serif' >0.1</text>
<line x1="493.45" y1="52.50" x2="496.45" y2="52.50" stroke="#404040" stroke-width="1" shape-rendering="crispEdges"/>
<text x="490.50" y="55.70" font-size="7.9" text-anchor="end" font-family='"DejaVu Sans","Liberation Sans",sans-serif' >0.2</text>
<line x1="493.45" y1="31.30" x2="496.45" y2="31.30" stroke="#404040" stroke-width="1" shape-rendering="crispEdges"/>
<text x="490.50" y="34.50" font-size="7.9" text-anchor="end" font-family='"DejaVu Sans","Liberation Sans",sans-serif' >0.3</text>
<line x1="493.45" y1="10.10" x2="496.45" y2="10.10" stroke="#404040" stroke-width="1" shape-rendering="crispEdges"/>
<text x="490.50" y="13.30" font-size="7.9" text-anchor="end" font-family='"DejaVu Sans","Liberation Sans",sans-serif' >0.4</text>
<text x="585.70" y="117.70" font-size="8.33" text-anchor="middle" font-family='"DejaVu Sans","Liberation Sans",sans-serif' >X-gate angle <tspan font-style="italic">ϕ</tspan></text>
<text transform="translate(467.0,50.4) rotate(-90)" font-size="8.33" text-anchor="middle" font-family='"DejaVu Sans","Liberation Sans",sans-serif'>DTC Order param. <tspan font-style="italic">Δ</tspan><tspan font-size="6.5" dy="1.8">DTC</tspan></text>
<text x="440.00" y="12.00" font-size="13.8" text-anchor="start" font-family='"Liberation Sans","DejaVu Sans",sans-serif' font-weight="bold">b</text>
<polyline fill="none" stroke="#0c8a1c" stroke-width="1.35" stroke-linejoin="round" points="504.10,89.18 536.74,86.63 569.38,78.58 602.02,61.19 634.66,45.50 667.30,25.05"/>
<circle cx="504.10" cy="89.18" r="2.0" fill="#0c8a1c"/>
<circle cx="536.74" cy="86.63" r="2.0" fill="#0c8a1c"/>
<circle cx="569.38" cy="78.58" r="2.0" fill="#0c8a1c"/>
<circle cx="602.02" cy="61.19" r="2.0" fill="#0c8a1c"/>
<circle cx="634.66" cy="45.50" r="2.0" fill="#0c8a1c"/>
<circle cx="667.30" cy="25.05" r="2.0" fill="#0c8a1c"/>
<polyline fill="none" stroke="#1f77b4" stroke-width="1.35" stroke-linejoin="round" points="504.10,88.75 536.74,86.21 569.38,77.94 602.02,60.77 634.66,44.66 667.30,24.30"/>
<path d="M504.10 86.15 V91.35 M501.70 86.15 H506.50 M501.70 91.35 H506.50" stroke="#1f77b4" stroke-width="1.0" fill="none"/>
<rect x="502.50" y="87.15" width="3.2" height="3.2" fill="#fff" stroke="#1f77b4" stroke-width="1.1"/>
<path d="M536.74 83.61 V88.81 M534.34 83.61 H539.14 M534.34 88.81 H539.14" stroke="#1f77b4" stroke-width="1.0" fill="none"/>
<rect x="535.14" y="84.61" width="3.2" height="3.2" fill="#fff" stroke="#1f77b4" stroke-width="1.1"/>
<path d="M569.38 75.34 V80.54 M566.98 75.34 H571.78 M566.98 80.54 H571.78" stroke="#1f77b4" stroke-width="1.0" fill="none"/>
<rect x="567.78" y="76.34" width="3.2" height="3.2" fill="#fff" stroke="#1f77b4" stroke-width="1.1"/>
<path d="M602.02 58.17 V63.37 M599.62 58.17 H604.42 M599.62 63.37 H604.42" stroke="#1f77b4" stroke-width="1.0" fill="none"/>
<rect x="600.42" y="59.17" width="3.2" height="3.2" fill="#fff" stroke="#1f77b4" stroke-width="1.1"/>
<path d="M634.66 42.06 V47.26 M632.26 42.06 H637.06 M632.26 47.26 H637.06" stroke="#1f77b4" stroke-width="1.0" fill="none"/>
<rect x="633.06" y="43.06" width="3.2" height="3.2" fill="#fff" stroke="#1f77b4" stroke-width="1.1"/>
<path d="M667.30 21.70 V26.90 M664.90 21.70 H669.70 M664.90 26.90 H669.70" stroke="#1f77b4" stroke-width="1.0" fill="none"/>
<rect x="665.70" y="22.70" width="3.2" height="3.2" fill="#fff" stroke="#1f77b4" stroke-width="1.1"/>
<polyline fill="none" stroke="#ff7f0e" stroke-width="1.35" stroke-linejoin="round" points="504.10,88.75 536.74,86.21 569.38,77.09 602.02,60.34 634.66,40.20 667.30,12.43"/>
<path d="M504.10 86.15 V91.35 M501.70 86.15 H506.50 M501.70 91.35 H506.50" stroke="#ff7f0e" stroke-width="1.0" fill="none"/>
<circle cx="504.10" cy="88.75" r="1.7" fill="#fff" stroke="#ff7f0e" stroke-width="1.1"/>
<path d="M536.74 83.61 V88.81 M534.34 83.61 H539.14 M534.34 88.81 H539.14" stroke="#ff7f0e" stroke-width="1.0" fill="none"/>
<circle cx="536.74" cy="86.21" r="1.7" fill="#fff" stroke="#ff7f0e" stroke-width="1.1"/>
<path d="M569.38 74.49 V79.69 M566.98 74.49 H571.78 M566.98 79.69 H571.78" stroke="#ff7f0e" stroke-width="1.0" fill="none"/>
<circle cx="569.38" cy="77.09" r="1.7" fill="#fff" stroke="#ff7f0e" stroke-width="1.1"/>
<path d="M602.02 57.74 V62.94 M599.62 57.74 H604.42 M599.62 62.94 H604.42" stroke="#ff7f0e" stroke-width="1.0" fill="none"/>
<circle cx="602.02" cy="60.34" r="1.7" fill="#fff" stroke="#ff7f0e" stroke-width="1.1"/>
<path d="M634.66 37.60 V42.80 M632.26 37.60 H637.06 M632.26 42.80 H637.06" stroke="#ff7f0e" stroke-width="1.0" fill="none"/>
<circle cx="634.66" cy="40.20" r="1.7" fill="#fff" stroke="#ff7f0e" stroke-width="1.1"/>
<path d="M667.30 9.83 V15.03 M664.90 9.83 H669.70 M664.90 15.03 H669.70" stroke="#ff7f0e" stroke-width="1.0" fill="none"/>
<circle cx="667.30" cy="12.43" r="1.7" fill="#fff" stroke="#ff7f0e" stroke-width="1.1"/>
<polyline fill="none" stroke="#9467bd" stroke-width="1.35" stroke-linejoin="round" points="504.10,88.54 536.74,85.78 569.38,76.46 602.02,59.92 634.66,39.36 667.30,11.58"/>
<path d="M504.10 85.94 V91.14 M501.70 85.94 H506.50 M501.70 91.14 H506.50" stroke="#9467bd" stroke-width="1.0" fill="none"/>
<path d="M504.10 86.64 L506.00 90.44 L502.20 90.44 Z" fill="#fff" stroke="#9467bd" stroke-width="1.1"/>
<path d="M536.74 83.18 V88.38 M534.34 83.18 H539.14 M534.34 88.38 H539.14" stroke="#9467bd" stroke-width="1.0" fill="none"/>
<path d="M536.74 83.88 L538.64 87.68 L534.84 87.68 Z" fill="#fff" stroke="#9467bd" stroke-width="1.1"/>
<path d="M569.38 73.86 V79.06 M566.98 73.86 H571.78 M566.98 79.06 H571.78" stroke="#9467bd" stroke-width="1.0" fill="none"/>
<path d="M569.38 74.56 L571.28 78.36 L567.48 78.36 Z" fill="#fff" stroke="#9467bd" stroke-width="1.1"/>
<path d="M602.02 57.32 V62.52 M599.62 57.32 H604.42 M599.62 62.52 H604.42" stroke="#9467bd" stroke-width="1.0" fill="none"/>
<path d="M602.02 58.02 L603.92 61.82 L600.12 61.82 Z" fill="#fff" stroke="#9467bd" stroke-width="1.1"/>
<path d="M634.66 36.76 V41.96 M632.26 36.76 H637.06 M632.26 41.96 H637.06" stroke="#9467bd" stroke-width="1.0" fill="none"/>
<path d="M634.66 37.46 L636.56 41.26 L632.76 41.26 Z" fill="#fff" stroke="#9467bd" stroke-width="1.1"/>
<path d="M667.30 8.98 V14.18 M664.90 8.98 H669.70 M664.90 14.18 H669.70" stroke="#9467bd" stroke-width="1.0" fill="none"/>
<path d="M667.30 9.68 L669.20 13.48 L665.40 13.48 Z" fill="#fff" stroke="#9467bd" stroke-width="1.1"/>
<rect x="500.3" y="9.6" width="78.30" height="48.80" rx="1.8" fill="#fff" fill-opacity="0.8" stroke="#d2d2d2" stroke-width="1.2"/>
<line x1="502.9" y1="16.3" x2="520.1" y2="16.3" stroke="#0c8a1c" stroke-width="1.35"/>
<circle cx="511.4" cy="16.3" r="2.1" fill="#0c8a1c"/>
<text x="526.10" y="19.30" font-size="8.0" text-anchor="start" font-family='"DejaVu Sans","Liberation Sans",sans-serif' >2x2 (2dTNS)</text>
<line x1="502.9" y1="28.3" x2="520.1" y2="28.3" stroke="#1f77b4" stroke-width="1.35"/>
<path d="M511.50 24.30 V32.30 M509.10 24.30 H513.90 M509.10 32.30 H513.90" stroke="#1f77b4" stroke-width="1.0" fill="none"/>
<rect x="509.50" y="26.30" width="4.0" height="4.0" fill="#fff" stroke="#1f77b4" stroke-width="1.2"/>
<text x="526.10" y="31.30" font-size="8.0" text-anchor="start" font-family='"DejaVu Sans","Liberation Sans",sans-serif' >2x2</text>
<line x1="502.9" y1="40.2" x2="520.1" y2="40.2" stroke="#ff7f0e" stroke-width="1.35"/>
<path d="M511.50 36.20 V44.20 M509.10 36.20 H513.90 M509.10 44.20 H513.90" stroke="#ff7f0e" stroke-width="1.0" fill="none"/>
<circle cx="511.50" cy="40.20" r="2.1" fill="#fff" stroke="#ff7f0e" stroke-width="1.2"/>
<text x="526.10" y="43.20" font-size="8.0" text-anchor="start" font-family='"DejaVu Sans","Liberation Sans",sans-serif' >3x3</text>
<line x1="502.9" y1="52.1" x2="520.1" y2="52.1" stroke="#9467bd" stroke-width="1.35"/>
<path d="M511.50 48.10 V56.10 M509.10 48.10 H513.90 M509.10 56.10 H513.90" stroke="#9467bd" stroke-width="1.0" fill="none"/>
<path d="M511.50 49.80 L513.80 54.40 L509.20 54.40 Z" fill="#fff" stroke="#9467bd" stroke-width="1.2"/>
<text x="526.10" y="55.10" font-size="8.0" text-anchor="start" font-family='"DejaVu Sans","Liberation Sans",sans-serif' >3x7</text>
<rect x="497.8" y="135.5" width="178.25" height="101.90" fill="#fff" stroke="#404040" stroke-width="1"/>
<line x1="505.70" y1="237.4" x2="505.70" y2="240.4" stroke="#404040" stroke-width="1" shape-rendering="crispEdges"/>
<text x="505.70" y="250.10" font-size="7.9" text-anchor="middle" font-family='"DejaVu Sans","Liberation Sans",sans-serif' >0</text>
<line x1="532.70" y1="237.4" x2="532.70" y2="240.4" stroke="#404040" stroke-width="1" shape-rendering="crispEdges"/>
<text x="532.70" y="250.10" font-size="7.9" text-anchor="middle" font-family='"DejaVu Sans","Liberation Sans",sans-serif' >5</text>
<line x1="559.70" y1="237.4" x2="559.70" y2="240.4" stroke="#404040" stroke-width="1" shape-rendering="crispEdges"/>
<text x="559.70" y="250.10" font-size="7.9" text-anchor="middle" font-family='"DejaVu Sans","Liberation Sans",sans-serif' >10</text>
<line x1="586.70" y1="237.4" x2="586.70" y2="240.4" stroke="#404040" stroke-width="1" shape-rendering="crispEdges"/>
<text x="586.70" y="250.10" font-size="7.9" text-anchor="middle" font-family='"DejaVu Sans","Liberation Sans",sans-serif' >15</text>
<line x1="613.70" y1="237.4" x2="613.70" y2="240.4" stroke="#404040" stroke-width="1" shape-rendering="crispEdges"/>
<text x="613.70" y="250.10" font-size="7.9" text-anchor="middle" font-family='"DejaVu Sans","Liberation Sans",sans-serif' >20</text>
<line x1="640.70" y1="237.4" x2="640.70" y2="240.4" stroke="#404040" stroke-width="1" shape-rendering="crispEdges"/>
<text x="640.70" y="250.10" font-size="7.9" text-anchor="middle" font-family='"DejaVu Sans","Liberation Sans",sans-serif' >25</text>
<line x1="667.70" y1="237.4" x2="667.70" y2="240.4" stroke="#404040" stroke-width="1" shape-rendering="crispEdges"/>
<text x="667.70" y="250.10" font-size="7.9" text-anchor="middle" font-family='"DejaVu Sans","Liberation Sans",sans-serif' >30</text>
<line x1="494.8" y1="225.20" x2="497.8" y2="225.20" stroke="#404040" stroke-width="1" shape-rendering="crispEdges"/>
<text x="492.60" y="228.50" font-size="7.9" text-anchor="end" font-family='"DejaVu Sans","Liberation Sans",sans-serif' >0.25</text>
<line x1="494.8" y1="207.35" x2="497.8" y2="207.35" stroke="#404040" stroke-width="1" shape-rendering="crispEdges"/>
<text x="492.60" y="210.65" font-size="7.9" text-anchor="end" font-family='"DejaVu Sans","Liberation Sans",sans-serif' >0.50</text>
<line x1="494.8" y1="189.50" x2="497.8" y2="189.50" stroke="#404040" stroke-width="1" shape-rendering="crispEdges"/>
<text x="492.60" y="192.80" font-size="7.9" text-anchor="end" font-family='"DejaVu Sans","Liberation Sans",sans-serif' >0.75</text>
<line x1="494.8" y1="171.65" x2="497.8" y2="171.65" stroke="#404040" stroke-width="1" shape-rendering="crispEdges"/>
<text x="492.60" y="174.95" font-size="7.9" text-anchor="end" font-family='"DejaVu Sans","Liberation Sans",sans-serif' >1.00</text>
<line x1="494.8" y1="153.80" x2="497.8" y2="153.80" stroke="#404040" stroke-width="1" shape-rendering="crispEdges"/>
<text x="492.60" y="157.10" font-size="7.9" text-anchor="end" font-family='"DejaVu Sans","Liberation Sans",sans-serif' >1.25</text>
<line x1="494.8" y1="135.95" x2="497.8" y2="135.95" stroke="#404040" stroke-width="1" shape-rendering="crispEdges"/>
<text x="492.60" y="139.25" font-size="7.9" text-anchor="end" font-family='"DejaVu Sans","Liberation Sans",sans-serif' >1.50</text>
<text x="587.20" y="266.20" font-size="9.5" text-anchor="middle" font-family='"DejaVu Sans","Liberation Sans",sans-serif' >Floquet Cycle</text>
<text transform="translate(464.6,186.6) rotate(-90)" font-size="9.5" text-anchor="middle" font-family='"DejaVu Sans","Liberation Sans",sans-serif'>Quantum Fisher Info.</text>
<text x="440.00" y="144.80" font-size="13.8" text-anchor="start" font-family='"Liberation Sans","DejaVu Sans",sans-serif' font-weight="bold">c</text>
<clipPath id="cc"><rect x="497.8" y="135.5" width="178.25" height="101.90"/></clipPath><g clip-path="url(#cc)">
<polyline fill="none" stroke="#1f77b4" stroke-width="1.3" stroke-linejoin="round" points="505.70,232.79 511.10,218.51 516.50,206.37 521.90,201.37 527.30,189.66 532.70,190.24 538.10,178.17 543.50,178.17 548.90,164.96 554.30,167.10 559.70,159.96 565.10,162.10 570.50,153.54 575.90,157.39 581.30,150.68 586.70,156.03 592.10,145.90 597.50,154.96 602.90,148.04 608.30,154.25 613.70,151.39 619.10,158.53 624.50,152.11 629.90,157.25 635.30,151.75 640.70,159.25 646.10,151.61 651.50,161.53 656.90,154.25 662.30,163.32 667.70,157.82"/>
<path d="M505.70 230.84 L507.65 234.74 L503.75 234.74 Z" fill="#fff" stroke="#1f77b4" stroke-width="1.1"/>
<path d="M511.10 217.15 V219.87 M509.20 217.15 H513.00 M509.20 219.87 H513.00" stroke="#1f77b4" stroke-width="1.0" fill="none"/>
<path d="M511.10 216.56 L513.05 220.46 L509.15 220.46 Z" fill="#fff" stroke="#1f77b4" stroke-width="1.1"/>
<path d="M516.50 204.65 V208.09 M514.60 204.65 H518.40 M514.60 208.09 H518.40" stroke="#1f77b4" stroke-width="1.0" fill="none"/>
<path d="M516.50 204.42 L518.45 208.32 L514.55 208.32 Z" fill="#fff" stroke="#1f77b4" stroke-width="1.1"/>
<path d="M521.90 199.29 V203.45 M520.00 199.29 H523.80 M520.00 203.45 H523.80" stroke="#1f77b4" stroke-width="1.0" fill="none"/>
<path d="M521.90 199.42 L523.85 203.32 L519.95 203.32 Z" fill="#fff" stroke="#1f77b4" stroke-width="1.1"/>
<path d="M527.30 187.22 V192.10 M525.40 187.22 H529.20 M525.40 192.10 H529.20" stroke="#1f77b4" stroke-width="1.0" fill="none"/>
<path d="M527.30 187.71 L529.25 191.61 L525.35 191.61 Z" fill="#fff" stroke="#1f77b4" stroke-width="1.1"/>
<path d="M532.70 187.44 V193.04 M530.80 187.44 H534.60 M530.80 193.04 H534.60" stroke="#1f77b4" stroke-width="1.0" fill="none"/>
<path d="M532.70 188.29 L534.65 192.19 L530.75 192.19 Z" fill="#fff" stroke="#1f77b4" stroke-width="1.1"/>
<path d="M538.10 175.01 V181.33 M536.20 175.01 H540.00 M536.20 181.33 H540.00" stroke="#1f77b4" stroke-width="1.0" fill="none"/>
<path d="M538.10 176.22 L540.05 180.12 L536.15 180.12 Z" fill="#fff" stroke="#1f77b4" stroke-width="1.1"/>
<path d="M543.50 174.65 V181.69 M541.60 174.65 H545.40 M541.60 181.69 H545.40" stroke="#1f77b4" stroke-width="1.0" fill="none"/>
<path d="M543.50 176.22 L545.45 180.12 L541.55 180.12 Z" fill="#fff" stroke="#1f77b4" stroke-width="1.1"/>
<path d="M548.90 161.08 V168.84 M547.00 161.08 H550.80 M547.00 168.84 H550.80" stroke="#1f77b4" stroke-width="1.0" fill="none"/>
<path d="M548.90 163.01 L550.85 166.91 L546.95 166.91 Z" fill="#fff" stroke="#1f77b4" stroke-width="1.1"/>
<path d="M554.30 162.86 V171.34 M552.40 162.86 H556.20 M552.40 171.34 H556.20" stroke="#1f77b4" stroke-width="1.0" fill="none"/>
<path d="M554.30 165.15 L556.25 169.05 L552.35 169.05 Z" fill="#fff" stroke="#1f77b4" stroke-width="1.1"/>
<path d="M559.70 155.36 V164.56 M557.80 155.36 H561.60 M557.80 164.56 H561.60" stroke="#1f77b4" stroke-width="1.0" fill="none"/>
<path d="M559.70 158.01 L561.65 161.91 L557.75 161.91 Z" fill="#fff" stroke="#1f77b4" stroke-width="1.1"/>
<path d="M565.10 157.50 V166.70 M563.20 157.50 H567.00 M563.20 166.70 H567.00" stroke="#1f77b4" stroke-width="1.0" fill="none"/>
<path d="M565.10 160.15 L567.05 164.05 L563.15 164.05 Z" fill="#fff" stroke="#1f77b4" stroke-width="1.1"/>
<path d="M570.50 148.94 V158.14 M568.60 148.94 H572.40 M568.60 158.14 H572.40" stroke="#1f77b4" stroke-width="1.0" fill="none"/>
<path d="M570.50 151.59 L572.45 155.49 L568.55 155.49 Z" fill="#fff" stroke="#1f77b4" stroke-width="1.1"/>
<path d="M575.90 152.79 V161.99 M574.00 152.79 H577.80 M574.00 161.99 H577.80" stroke="#1f77b4" stroke-width="1.0" fill="none"/>
<path d="M575.90 155.44 L577.85 159.34 L573.95 159.34 Z" fill="#fff" stroke="#1f77b4" stroke-width="1.1"/>
<path d="M581.30 146.08 V155.28 M579.40 146.08 H583.20 M579.40 155.28 H583.20" stroke="#1f77b4" stroke-width="1.0" fill="none"/>
<path d="M581.30 148.73 L583.25 152.63 L579.35 152.63 Z" fill="#fff" stroke="#1f77b4" stroke-width="1.1"/>
<path d="M586.70 151.43 V160.63 M584.80 151.43 H588.60 M584.80 160.63 H588.60" stroke="#1f77b4" stroke-width="1.0" fill="none"/>
<path d="M586.70 154.08 L588.65 157.98 L584.75 157.98 Z" fill="#fff" stroke="#1f77b4" stroke-width="1.1"/>
<path d="M592.10 141.30 V150.50 M590.20 141.30 H594.00 M590.20 150.50 H594.00" stroke="#1f77b4" stroke-width="1.0" fill="none"/>
<path d="M592.10 143.95 L594.05 147.85 L590.15 147.85 Z" fill="#fff" stroke="#1f77b4" stroke-width="1.1"/>
<path d="M597.50 150.36 V159.56 M595.60 150.36 H599.40 M595.60 159.56 H599.40" stroke="#1f77b4" stroke-width="1.0" fill="none"/>
<path d="M597.50 153.01 L599.45 156.91 L595.55 156.91 Z" fill="#fff" stroke="#1f77b4" stroke-width="1.1"/>
<path d="M602.90 143.44 V152.64 M601.00 143.44 H604.80 M601.00 152.64 H604.80" stroke="#1f77b4" stroke-width="1.0" fill="none"/>
<path d="M602.90 146.09 L604.85 149.99 L600.95 149.99 Z" fill="#fff" stroke="#1f77b4" stroke-width="1.1"/>
<path d="M608.30 149.65 V158.85 M606.40 149.65 H610.20 M606.40 158.85 H610.20" stroke="#1f77b4" stroke-width="1.0" fill="none"/>
<path d="M608.30 152.30 L610.25 156.20 L606.35 156.20 Z" fill="#fff" stroke="#1f77b4" stroke-width="1.1"/>
<path d="M613.70 146.79 V155.99 M611.80 146.79 H615.60 M611.80 155.99 H615.60" stroke="#1f77b4" stroke-width="1.0" fill="none"/>
<path d="M613.70 149.44 L615.65 153.34 L611.75 153.34 Z" fill="#fff" stroke="#1f77b4" stroke-width="1.1"/>
<path d="M619.10 153.93 V163.13 M617.20 153.93 H621.00 M617.20 163.13 H621.00" stroke="#1f77b4" stroke-width="1.0" fill="none"/>
<path d="M619.10 156.58 L621.05 160.48 L617.15 160.48 Z" fill="#fff" stroke="#1f77b4" stroke-width="1.1"/>
<path d="M624.50 147.51 V156.71 M622.60 147.51 H626.40 M622.60 156.71 H626.40" stroke="#1f77b4" stroke-width="1.0" fill="none"/>
<path d="M624.50 150.16 L626.45 154.06 L622.55 154.06 Z" fill="#fff" stroke="#1f77b4" stroke-width="1.1"/>
<path d="M629.90 152.65 V161.85 M628.00 152.65 H631.80 M628.00 161.85 H631.80" stroke="#1f77b4" stroke-width="1.0" fill="none"/>
<path d="M629.90 155.30 L631.85 159.20 L627.95 159.20 Z" fill="#fff" stroke="#1f77b4" stroke-width="1.1"/>
<path d="M635.30 147.15 V156.35 M633.40 147.15 H637.20 M633.40 156.35 H637.20" stroke="#1f77b4" stroke-width="1.0" fill="none"/>
<path d="M635.30 149.80 L637.25 153.70 L633.35 153.70 Z" fill="#fff" stroke="#1f77b4" stroke-width="1.1"/>
<path d="M640.70 154.65 V163.85 M638.80 154.65 H642.60 M638.80 163.85 H642.60" stroke="#1f77b4" stroke-width="1.0" fill="none"/>
<path d="M640.70 157.30 L642.65 161.20 L638.75 161.20 Z" fill="#fff" stroke="#1f77b4" stroke-width="1.1"/>
<path d="M646.10 147.01 V156.21 M644.20 147.01 H648.00 M644.20 156.21 H648.00" stroke="#1f77b4" stroke-width="1.0" fill="none"/>
<path d="M646.10 149.66 L648.05 153.56 L644.15 153.56 Z" fill="#fff" stroke="#1f77b4" stroke-width="1.1"/>
<path d="M651.50 156.93 V166.13 M649.60 156.93 H653.40 M649.60 166.13 H653.40" stroke="#1f77b4" stroke-width="1.0" fill="none"/>
<path d="M651.50 159.58 L653.45 163.48 L649.55 163.48 Z" fill="#fff" stroke="#1f77b4" stroke-width="1.1"/>
<path d="M656.90 149.65 V158.85 M655.00 149.65 H658.80 M655.00 158.85 H658.80" stroke="#1f77b4" stroke-width="1.0" fill="none"/>
<path d="M656.90 152.30 L658.85 156.20 L654.95 156.20 Z" fill="#fff" stroke="#1f77b4" stroke-width="1.1"/>
<path d="M662.30 158.72 V167.92 M660.40 158.72 H664.20 M660.40 167.92 H664.20" stroke="#1f77b4" stroke-width="1.0" fill="none"/>
<path d="M662.30 161.37 L664.25 165.27 L660.35 165.27 Z" fill="#fff" stroke="#1f77b4" stroke-width="1.1"/>
<path d="M667.70 153.22 V162.42 M665.80 153.22 H669.60 M665.80 162.42 H669.60" stroke="#1f77b4" stroke-width="1.0" fill="none"/>
<path d="M667.70 155.87 L669.65 159.77 L665.75 159.77 Z" fill="#fff" stroke="#1f77b4" stroke-width="1.1"/>
<polyline fill="none" stroke="#ff7f0e" stroke-width="1.3" stroke-linejoin="round" points="505.70,232.79 511.10,202.59 516.50,186.38 521.90,179.95 527.30,173.53 532.70,172.10 538.10,163.67 543.50,165.10 548.90,159.68 554.30,164.25 559.70,160.25 565.10,165.67 570.50,162.39 575.90,167.46 581.30,158.53 586.70,162.39 592.10,160.68 597.50,162.82 602.90,161.53 608.30,165.10 613.70,160.68 619.10,165.67 624.50,162.82 629.90,165.10 635.30,168.17 640.70,167.46 646.10,165.67 651.50,167.82 656.90,167.46 662.30,169.24 667.70,168.17"/>
<circle cx="505.70" cy="232.79" r="1.8" fill="#fff" stroke="#ff7f0e" stroke-width="1.1"/>
<path d="M511.10 201.37 V203.81 M509.20 201.37 H513.00 M509.20 203.81 H513.00" stroke="#ff7f0e" stroke-width="1.0" fill="none"/>
<circle cx="511.10" cy="202.59" r="1.8" fill="#fff" stroke="#ff7f0e" stroke-width="1.1"/>
<path d="M516.50 184.94 V187.82 M514.60 184.94 H518.40 M514.60 187.82 H518.40" stroke="#ff7f0e" stroke-width="1.0" fill="none"/>
<circle cx="516.50" cy="186.38" r="1.8" fill="#fff" stroke="#ff7f0e" stroke-width="1.1"/>
<path d="M521.90 178.29 V181.61 M520.00 178.29 H523.80 M520.00 181.61 H523.80" stroke="#ff7f0e" stroke-width="1.0" fill="none"/>
<circle cx="521.90" cy="179.95" r="1.8" fill="#fff" stroke="#ff7f0e" stroke-width="1.1"/>
<path d="M527.30 171.65 V175.41 M525.40 171.65 H529.20 M525.40 175.41 H529.20" stroke="#ff7f0e" stroke-width="1.0" fill="none"/>
<circle cx="527.30" cy="173.53" r="1.8" fill="#fff" stroke="#ff7f0e" stroke-width="1.1"/>
<path d="M532.70 170.00 V174.20 M530.80 170.00 H534.60 M530.80 174.20 H534.60" stroke="#ff7f0e" stroke-width="1.0" fill="none"/>
<circle cx="532.70" cy="172.10" r="1.8" fill="#fff" stroke="#ff7f0e" stroke-width="1.1"/>
<path d="M538.10 161.35 V165.99 M536.20 161.35 H540.00 M536.20 165.99 H540.00" stroke="#ff7f0e" stroke-width="1.0" fill="none"/>
<circle cx="538.10" cy="163.67" r="1.8" fill="#fff" stroke="#ff7f0e" stroke-width="1.1"/>
<path d="M543.50 162.56 V167.64 M541.60 162.56 H545.40 M541.60 167.64 H545.40" stroke="#ff7f0e" stroke-width="1.0" fill="none"/>
<circle cx="543.50" cy="165.10" r="1.8" fill="#fff" stroke="#ff7f0e" stroke-width="1.1"/>
<path d="M548.90 156.92 V162.44 M547.00 156.92 H550.80 M547.00 162.44 H550.80" stroke="#ff7f0e" stroke-width="1.0" fill="none"/>
<circle cx="548.90" cy="159.68" r="1.8" fill="#fff" stroke="#ff7f0e" stroke-width="1.1"/>
<path d="M554.30 161.27 V167.23 M552.40 161.27 H556.20 M552.40 167.23 H556.20" stroke="#ff7f0e" stroke-width="1.0" fill="none"/>
<circle cx="554.30" cy="164.25" r="1.8" fill="#fff" stroke="#ff7f0e" stroke-width="1.1"/>
<path d="M559.70 157.05 V163.45 M557.80 157.05 H561.60 M557.80 163.45 H561.60" stroke="#ff7f0e" stroke-width="1.0" fill="none"/>
<circle cx="559.70" cy="160.25" r="1.8" fill="#fff" stroke="#ff7f0e" stroke-width="1.1"/>
<path d="M565.10 162.47 V168.87 M563.20 162.47 H567.00 M563.20 168.87 H567.00" stroke="#ff7f0e" stroke-width="1.0" fill="none"/>
<circle cx="565.10" cy="165.67" r="1.8" fill="#fff" stroke="#ff7f0e" stroke-width="1.1"/>
<path d="M570.50 159.19 V165.59 M568.60 159.19 H572.40 M568.60 165.59 H572.40" stroke="#ff7f0e" stroke-width="1.0" fill="none"/>
<circle cx="570.50" cy="162.39" r="1.8" fill="#fff" stroke="#ff7f0e" stroke-width="1.1"/>
<path d="M575.90 164.26 V170.66 M574.00 164.26 H577.80 M574.00 170.66 H577.80" stroke="#ff7f0e" stroke-width="1.0" fill="none"/>
<circle cx="575.90" cy="167.46" r="1.8" fill="#fff" stroke="#ff7f0e" stroke-width="1.1"/>
<path d="M581.30 155.33 V161.73 M579.40 155.33 H583.20 M579.40 161.73 H583.20" stroke="#ff7f0e" stroke-width="1.0" fill="none"/>
<circle cx="581.30" cy="158.53" r="1.8" fill="#fff" stroke="#ff7f0e" stroke-width="1.1"/>
<path d="M586.70 159.19 V165.59 M584.80 159.19 H588.60 M584.80 165.59 H588.60" stroke="#ff7f0e" stroke-width="1.0" fill="none"/>
<circle cx="586.70" cy="162.39" r="1.8" fill="#fff" stroke="#ff7f0e" stroke-width="1.1"/>
<path d="M592.10 157.48 V163.88 M590.20 157.48 H594.00 M590.20 163.88 H594.00" stroke="#ff7f0e" stroke-width="1.0" fill="none"/>
<circle cx="592.10" cy="160.68" r="1.8" fill="#fff" stroke="#ff7f0e" stroke-width="1.1"/>
<path d="M597.50 159.62 V166.02 M595.60 159.62 H599.40 M595.60 166.02 H599.40" stroke="#ff7f0e" stroke-width="1.0" fill="none"/>
<circle cx="597.50" cy="162.82" r="1.8" fill="#fff" stroke="#ff7f0e" stroke-width="1.1"/>
<path d="M602.90 158.33 V164.73 M601.00 158.33 H604.80 M601.00 164.73 H604.80" stroke="#ff7f0e" stroke-width="1.0" fill="none"/>
<circle cx="602.90" cy="161.53" r="1.8" fill="#fff" stroke="#ff7f0e" stroke-width="1.1"/>
<path d="M608.30 161.90 V168.30 M606.40 161.90 H610.20 M606.40 168.30 H610.20" stroke="#ff7f0e" stroke-width="1.0" fill="none"/>
<circle cx="608.30" cy="165.10" r="1.8" fill="#fff" stroke="#ff7f0e" stroke-width="1.1"/>
<path d="M613.70 157.48 V163.88 M611.80 157.48 H615.60 M611.80 163.88 H615.60" stroke="#ff7f0e" stroke-width="1.0" fill="none"/>
<circle cx="613.70" cy="160.68" r="1.8" fill="#fff" stroke="#ff7f0e" stroke-width="1.1"/>
<path d="M619.10 162.47 V168.87 M617.20 162.47 H621.00 M617.20 168.87 H621.00" stroke="#ff7f0e" stroke-width="1.0" fill="none"/>
<circle cx="619.10" cy="165.67" r="1.8" fill="#fff" stroke="#ff7f0e" stroke-width="1.1"/>
<path d="M624.50 159.62 V166.02 M622.60 159.62 H626.40 M622.60 166.02 H626.40" stroke="#ff7f0e" stroke-width="1.0" fill="none"/>
<circle cx="624.50" cy="162.82" r="1.8" fill="#fff" stroke="#ff7f0e" stroke-width="1.1"/>
<path d="M629.90 161.90 V168.30 M628.00 161.90 H631.80 M628.00 168.30 H631.80" stroke="#ff7f0e" stroke-width="1.0" fill="none"/>
<circle cx="629.90" cy="165.10" r="1.8" fill="#fff" stroke="#ff7f0e" stroke-width="1.1"/>
<path d="M635.30 164.97 V171.37 M633.40 164.97 H637.20 M633.40 171.37 H637.20" stroke="#ff7f0e" stroke-width="1.0" fill="none"/>
<circle cx="635.30" cy="168.17" r="1.8" fill="#fff" stroke="#ff7f0e" stroke-width="1.1"/>
<path d="M640.70 164.26 V170.66 M638.80 164.26 H642.60 M638.80 170.66 H642.60" stroke="#ff7f0e" stroke-width="1.0" fill="none"/>
<circle cx="640.70" cy="167.46" r="1.8" fill="#fff" stroke="#ff7f0e" stroke-width="1.1"/>
<path d="M646.10 162.47 V168.87 M644.20 162.47 H648.00 M644.20 168.87 H648.00" stroke="#ff7f0e" stroke-width="1.0" fill="none"/>
<circle cx="646.10" cy="165.67" r="1.8" fill="#fff" stroke="#ff7f0e" stroke-width="1.1"/>
<path d="M651.50 164.62 V171.02 M649.60 164.62 H653.40 M649.60 171.02 H653.40" stroke="#ff7f0e" stroke-width="1.0" fill="none"/>
<circle cx="651.50" cy="167.82" r="1.8" fill="#fff" stroke="#ff7f0e" stroke-width="1.1"/>
<path d="M656.90 164.26 V170.66 M655.00 164.26 H658.80 M655.00 170.66 H658.80" stroke="#ff7f0e" stroke-width="1.0" fill="none"/>
<circle cx="656.90" cy="167.46" r="1.8" fill="#fff" stroke="#ff7f0e" stroke-width="1.1"/>
<path d="M662.30 166.04 V172.44 M660.40 166.04 H664.20 M660.40 172.44 H664.20" stroke="#ff7f0e" stroke-width="1.0" fill="none"/>
<circle cx="662.30" cy="169.24" r="1.8" fill="#fff" stroke="#ff7f0e" stroke-width="1.1"/>
<path d="M667.70 164.97 V171.37 M665.80 164.97 H669.60 M665.80 171.37 H669.60" stroke="#ff7f0e" stroke-width="1.0" fill="none"/>
<circle cx="667.70" cy="168.17" r="1.8" fill="#fff" stroke="#ff7f0e" stroke-width="1.1"/>
<polyline fill="none" stroke="#2ca02c" stroke-width="1.3" stroke-linejoin="round" points="505.70,232.79 511.10,169.96 516.50,171.74 521.90,172.10 527.30,172.10 532.70,172.10 538.10,173.53 543.50,174.60 548.90,169.60 554.30,172.10 559.70,173.17 565.10,173.74 570.50,173.74 575.90,173.74 581.30,173.17 586.70,172.10 592.10,171.03 597.50,171.39 602.90,171.03 608.30,172.81 613.70,170.67 619.10,171.39 624.50,174.24 629.90,171.03 635.30,172.10 640.70,174.10 646.10,169.60 651.50,172.10 656.90,171.39 662.30,174.10 667.70,174.60"/>
<rect x="503.70" y="230.79" width="4.0" height="4.0" fill="#fff" stroke="#2ca02c" stroke-width="1.3"/>
<rect x="509.10" y="167.96" width="4.0" height="4.0" fill="#fff" stroke="#2ca02c" stroke-width="1.3"/>
<rect x="514.50" y="169.74" width="4.0" height="4.0" fill="#fff" stroke="#2ca02c" stroke-width="1.3"/>
<rect x="519.90" y="170.10" width="4.0" height="4.0" fill="#fff" stroke="#2ca02c" stroke-width="1.3"/>
<rect x="525.30" y="170.10" width="4.0" height="4.0" fill="#fff" stroke="#2ca02c" stroke-width="1.3"/>
<rect x="530.70" y="170.10" width="4.0" height="4.0" fill="#fff" stroke="#2ca02c" stroke-width="1.3"/>
<rect x="536.10" y="171.53" width="4.0" height="4.0" fill="#fff" stroke="#2ca02c" stroke-width="1.3"/>
<rect x="541.50" y="172.60" width="4.0" height="4.0" fill="#fff" stroke="#2ca02c" stroke-width="1.3"/>
<rect x="546.90" y="167.60" width="4.0" height="4.0" fill="#fff" stroke="#2ca02c" stroke-width="1.3"/>
<rect x="552.30" y="170.10" width="4.0" height="4.0" fill="#fff" stroke="#2ca02c" stroke-width="1.3"/>
<rect x="557.70" y="171.17" width="4.0" height="4.0" fill="#fff" stroke="#2ca02c" stroke-width="1.3"/>
<rect x="563.10" y="171.74" width="4.0" height="4.0" fill="#fff" stroke="#2ca02c" stroke-width="1.3"/>
<rect x="568.50" y="171.74" width="4.0" height="4.0" fill="#fff" stroke="#2ca02c" stroke-width="1.3"/>
<rect x="573.90" y="171.74" width="4.0" height="4.0" fill="#fff" stroke="#2ca02c" stroke-width="1.3"/>
<rect x="579.30" y="171.17" width="4.0" height="4.0" fill="#fff" stroke="#2ca02c" stroke-width="1.3"/>
<rect x="584.70" y="170.10" width="4.0" height="4.0" fill="#fff" stroke="#2ca02c" stroke-width="1.3"/>
<rect x="590.10" y="169.03" width="4.0" height="4.0" fill="#fff" stroke="#2ca02c" stroke-width="1.3"/>
<rect x="595.50" y="169.39" width="4.0" height="4.0" fill="#fff" stroke="#2ca02c" stroke-width="1.3"/>
<rect x="600.90" y="169.03" width="4.0" height="4.0" fill="#fff" stroke="#2ca02c" stroke-width="1.3"/>
<rect x="606.30" y="170.81" width="4.0" height="4.0" fill="#fff" stroke="#2ca02c" stroke-width="1.3"/>
<rect x="611.70" y="168.67" width="4.0" height="4.0" fill="#fff" stroke="#2ca02c" stroke-width="1.3"/>
<rect x="617.10" y="169.39" width="4.0" height="4.0" fill="#fff" stroke="#2ca02c" stroke-width="1.3"/>
<rect x="622.50" y="172.24" width="4.0" height="4.0" fill="#fff" stroke="#2ca02c" stroke-width="1.3"/>
<rect x="627.90" y="169.03" width="4.0" height="4.0" fill="#fff" stroke="#2ca02c" stroke-width="1.3"/>
<rect x="633.30" y="170.10" width="4.0" height="4.0" fill="#fff" stroke="#2ca02c" stroke-width="1.3"/>
<rect x="638.70" y="172.10" width="4.0" height="4.0" fill="#fff" stroke="#2ca02c" stroke-width="1.3"/>
<rect x="644.10" y="167.60" width="4.0" height="4.0" fill="#fff" stroke="#2ca02c" stroke-width="1.3"/>
<rect x="649.50" y="170.10" width="4.0" height="4.0" fill="#fff" stroke="#2ca02c" stroke-width="1.3"/>
<rect x="654.90" y="169.39" width="4.0" height="4.0" fill="#fff" stroke="#2ca02c" stroke-width="1.3"/>
<rect x="660.30" y="172.10" width="4.0" height="4.0" fill="#fff" stroke="#2ca02c" stroke-width="1.3"/>
<rect x="665.70" y="172.60" width="4.0" height="4.0" fill="#fff" stroke="#2ca02c" stroke-width="1.3"/>
</g>
</svg>
</body></html>
